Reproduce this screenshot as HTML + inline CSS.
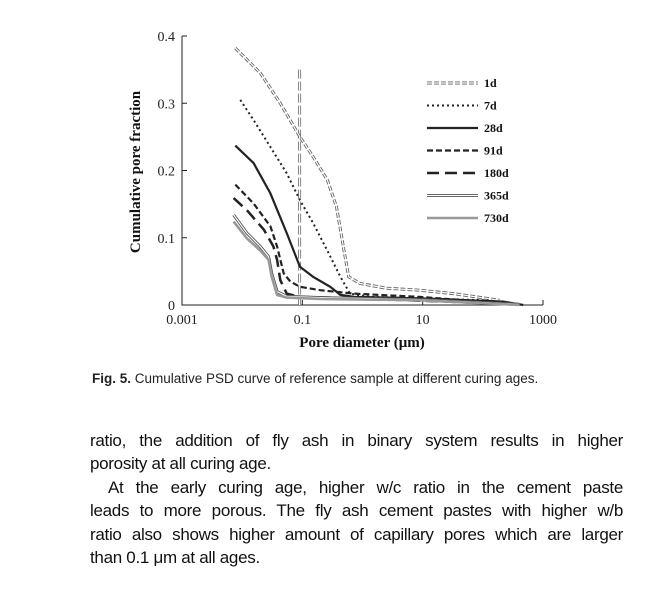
<!DOCTYPE html>
<html><head><meta charset="utf-8"><style>
body{margin:0;background:#fff;width:647px;height:590px;overflow:hidden;position:relative;font-family:"Liberation Sans",sans-serif}
.ln{position:absolute;left:90px;width:533px;font-size:17px;letter-spacing:-0.3px;white-space:nowrap;color:#111;text-align:justify;text-align-last:justify;line-height:20px}
.ln.l{text-align-last:left}
</style></head><body>
<svg id="chart" width="647" height="360" style="position:absolute;left:0;top:0" font-family="Liberation Serif, serif"></svg>
<div style="position:absolute;left:92px;top:371px;font-size:13.5px;color:#222;white-space:nowrap"><b>Fig. 5.</b> Cumulative PSD curve of reference sample at different curing ages.</div>
<div class="ln" style="top:431px">ratio, the addition of fly ash in binary system results in higher</div>
<div class="ln l" style="top:454px">porosity at all curing age.</div>
<div class="ln" style="top:478px;left:108px;width:515px">At the early curing age, higher w/c ratio in the cement paste</div>
<div class="ln" style="top:501px">leads to more porous. The fly ash cement pastes with higher w/b</div>
<div class="ln" style="top:525px">ratio also shows higher amount of capillary pores which are larger</div>
<div class="ln l" style="top:548px">than 0.1 μm at all ages.</div>
<script>
const xTicks=[0.001,0.1,10,1000];
const xTickLabels=["0.001","0.1","10","1000"];
const yTicks=[0,0.1,0.2,0.3,0.4];
const yTickLabels=["0","0.1","0.2","0.3","0.4"];
const seriesNames=["1d","7d","28d","91d","180d","365d","730d"];
const d1=[0.0077,0.020,0.043,0.091,0.15,0.26,0.37,0.48,0.59,0.91,2.5,8.9,32,115,190];
const v1=[0.382,0.345,0.300,0.250,0.221,0.186,0.146,0.087,0.042,0.032,0.025,0.022,0.017,0.010,0.007];
const d7=[0.0093,0.0155,0.0295,0.055,0.091,0.151,0.257,0.43,0.62,1.33,8.9,115,407];
const v7=[0.305,0.275,0.235,0.196,0.156,0.122,0.082,0.042,0.017,0.012,0.010,0.007,0.001];
const d28=[0.0077,0.0155,0.0295,0.055,0.091,0.151,0.29,0.43,0.71,8.9,219,468];
const v28=[0.237,0.211,0.166,0.107,0.057,0.042,0.027,0.015,0.012,0.010,0.005,0];
const d91=[0.0077,0.0155,0.0295,0.038,0.049,0.063,0.091,0.2,0.71,8.9,407];
const v91=[0.179,0.151,0.117,0.087,0.047,0.035,0.027,0.022,0.017,0.012,0.001];
const d180=[0.0072,0.012,0.023,0.033,0.038,0.043,0.055,0.091,0.71,407];
const v180=[0.159,0.141,0.112,0.087,0.067,0.037,0.017,0.012,0.010,0.001];
const d365=[0.0072,0.012,0.020,0.0275,0.031,0.038,0.055,0.2,8.9,407];
const v365=[0.134,0.107,0.087,0.072,0.047,0.020,0.013,0.011,0.008,0.001];
const d730=[0.0072,0.012,0.020,0.0275,0.031,0.038,0.055,0.2,8.9,407];
const v730=[0.124,0.099,0.081,0.067,0.042,0.015,0.011,0.009,0.007,0];
const refLineX=[0.09];
const refLineY=[0,0.35];

const svg=document.getElementById('chart');
const NS='http://www.w3.org/2000/svg';
const X0=182,X1=543,Y0=305,Y1=36;
function xs(d){return X0+(Math.log10(d)+3)/6*(X1-X0);}
function ys(v){return Y0-v/0.4*(Y0-Y1);}
function mk(t,a,p){const e=document.createElementNS(NS,t);for(const k in a)e.setAttribute(k,a[k]);(p||svg).appendChild(e);return e;}
const ax=mk('path',{d:`M${X0} ${Y1}V${Y0}H${X1}`,stroke:'#222',fill:'none','stroke-width':1});


yTicks.forEach((v,i)=>{
 const t=mk('line',{x1:X0,x2:X0+5,y1:ys(v),y2:ys(v),stroke:'#222'});
 
 
 const l=mk('text',{x:X0-7,y:ys(v)+5,'text-anchor':'end','font-size':14,fill:'#222'});l.textContent=yTickLabels[i];
 
 
});
xTicks.forEach((d,i)=>{
 const t=mk('line',{x1:xs(d),x2:xs(d),y1:Y0,y2:Y0-5,stroke:'#222'});
 
 
 const l=mk('text',{x:xs(d),y:Y0+19,'text-anchor':'middle','font-size':14,fill:'#222'});l.textContent=xTickLabels[i];
 
 
});
const xt=mk('text',{x:362,y:347,'text-anchor':'middle','font-size':15,'font-weight':'bold',fill:'#111'});xt.textContent='Pore diameter (μm)';


const yt=mk('text',{x:0,y:0,'text-anchor':'middle','font-size':15,'font-weight':'bold',fill:'#111',transform:'translate(140,172) rotate(-90)'});yt.textContent='Cumulative pore fraction';



const styles=[
 {s:'#666',w:3,da:'5 2',dbl:true},
 {s:'#222',w:2,da:'2 3'},
 {s:'#222',w:2.2,da:''},
 {s:'#222',w:2.2,da:'6 3'},
 {s:'#222',w:2.5,da:'12 6'},
 {s:'#555',w:3,da:'',dbl:true},
 {s:'#999',w:2.6,da:''}];
const data=[[d1,v1],[d7,v7],[d28,v28],[d91,v91],[d180,v180],[d365,v365],[d730,v730]];
function drawLine(pts,st,p,name){
 const g=mk('g',{},p);
 
 
 mk('path',{d:pts,stroke:st.s,'stroke-width':st.w,fill:'none','stroke-dasharray':st.da},g);
 if(st.dbl)mk('path',{d:pts,stroke:'#fff','stroke-width':st.w-1.8,fill:'none','stroke-dasharray':st.da},g);
}
const rl=`M${xs(refLineX[0])} ${ys(refLineY[1])}V${ys(refLineY[0])}`;
drawLine(rl,{s:'#777',w:3,da:'9 3',dbl:true},svg,'reference-line-0-1um');
data.forEach((sd,i)=>{
 const [d,v]=sd;
 const pts=d.map((x,j)=>(j?'L':'M')+xs(x).toFixed(1)+' '+ys(v[j]).toFixed(1)).join('');
 drawLine(pts,styles[i],svg,'series-'+seriesNames[i]);
});
seriesNames.forEach((n,i)=>{
 const y=83+i*22.5;
 drawLine(`M427 ${y}H478`,styles[i],svg,'legend-swatch-'+n);
 const l=mk('text',{x:484,y:y+4,'font-size':12,'font-weight':'bold',fill:'#111'});l.textContent=n;
 
 
});
</script>
</body></html>
